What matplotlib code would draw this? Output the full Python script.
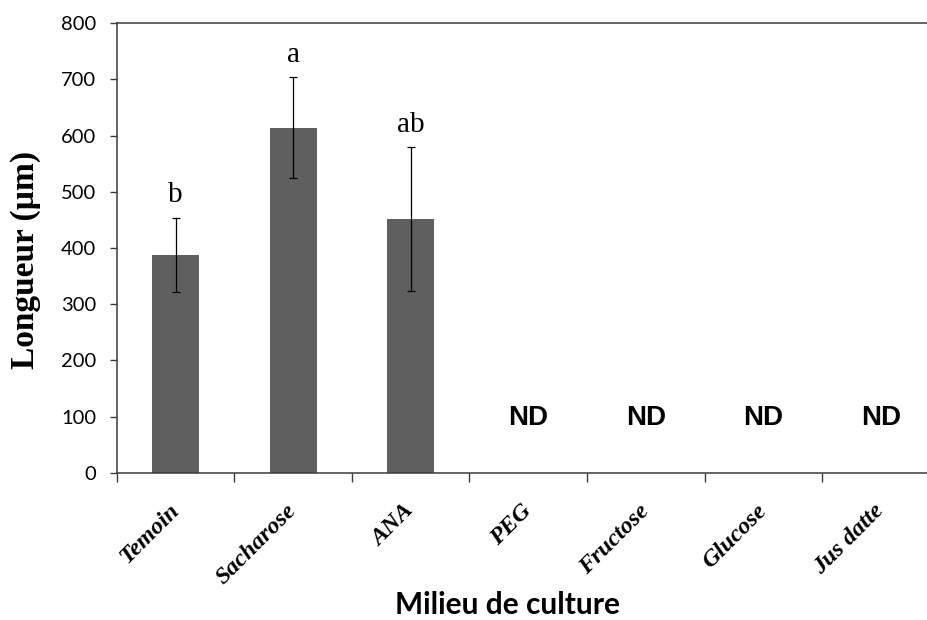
import numpy as np
import matplotlib
matplotlib.use("Agg")
from matplotlib import pyplot as plt

# culture media and root length (mean +/- error), ND = not detected
categories = ["Temoin", "Sacharose", "ANA", "PEG", "Fructose", "Glucose", "Jus datte"]
means = [388, 614, 451]
errors = [66, 90, 128]
letters = ["b", "a", "ab"]
nd_labels = ["ND", "ND", "ND", "ND"]

BAR_COLOR = "#5f5f5f"
AXIS_COLOR = "#3c3c3c"

fig = plt.figure(figsize=(9.27, 6.2), dpi=100)
ax = fig.add_axes([0.1262, 0.2371, 0.8873, 0.7258])

x = np.arange(len(categories))
n = len(means)
ax.bar(x[:n], means, width=0.4, color=BAR_COLOR, zorder=2)
ax.errorbar(x[:n], means, yerr=errors, fmt="none", ecolor="black",
            elinewidth=0.9, capsize=3, capthick=0.9, zorder=3)

# significance letters above the error bars
for xi, m, e, lab in zip(x[:n], means, errors, letters):
    ax.annotate(lab, (xi, m + e), xytext=(0, 11), textcoords="offset points",
                ha="center", va="baseline", fontsize=21,
                family="Liberation Serif")

for xi, lab in zip(x[n:], nd_labels):
    ax.text(xi, 98, lab, ha="center", va="center", fontsize=20,
            fontweight="bold", family="Liberation Sans")

ax.set_xlim(-0.5, len(categories) - 0.5)
ax.set_ylim(0, 800)
ax.set_yticks(np.arange(0, 801, 100))

# category boundaries get the tick marks, labels sit at centres
ax.set_xticks(np.arange(len(categories) + 1) - 0.5)
ax.set_xticklabels([])
ax.set_xticks(x, minor=True)
ax.set_xticklabels(categories, minor=True, rotation=45, ha="right",
                   va="center", rotation_mode="anchor", fontsize=17.5,
                   fontweight="bold", fontstyle="italic", family="Liberation Serif")
ax.tick_params(axis="x", which="minor", length=0, pad=25)
ax.tick_params(axis="x", which="major", direction="out", length=6.5,
               width=1.0, color=AXIS_COLOR)
ax.tick_params(axis="y", direction="out", length=5, width=1.0,
               color=AXIS_COLOR, pad=10, labelsize=14.5)
for t in ax.get_yticklabels():
    t.set_family("Lato")

for side in ["left", "bottom", "top"]:
    ax.spines[side].set_color(AXIS_COLOR)
    ax.spines[side].set_linewidth(1.1)
ax.spines["right"].set_visible(False)

ax.set_ylabel("Longueur (µm)", fontsize=24, fontweight="bold",
              family="Liberation Serif")
ax.yaxis.set_label_coords(-0.092, 0.473)
ax.set_xlabel("Milieu de culture", fontsize=21.5, fontweight="bold", family="Lato")
ax.xaxis.label.set_va("baseline")
ax.xaxis.set_label_coords(0.475, -0.314)

fig.savefig("out.png", dpi=100)
